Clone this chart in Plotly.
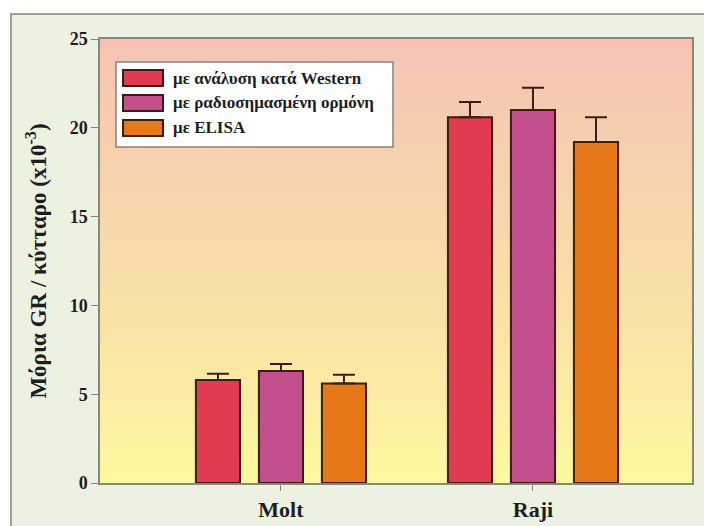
import plotly.graph_objects as go

categories = ["Molt", "Raji"]
series_names = ["με ανάλυση κατά Western", "με ραδιοσημασμένη ορμόνη", "με ELISA"]
western = [5.8, 20.6]
western_err = [0.35, 0.85]
radio = [6.3, 21.0]
radio_err = [0.4, 1.25]
elisa = [5.6, 19.2]
elisa_err = [0.5, 1.4]
y_ticks = [0, 5, 10, 15, 20, 25]
y_title = "Μόρια GR / κύτταρο (x10<sup>-3</sup>)"

colors = ["#E03B51", "#C24E8E", "#E67819"]
edge = "#3A1E12"
FONT = "Liberation Serif"

values = [western, radio, elisa]
errors = [western_err, radio_err, elisa_err]

fig = go.Figure()
for name, v, e, c in zip(series_names, values, errors, colors):
    fig.add_trace(go.Bar(
        x=categories, y=v, name=name,
        marker=dict(color=c, line=dict(color=edge, width=2)),
        error_y=dict(type="data", array=e, symmetric=False, arrayminus=[0]*len(e),
                     color=edge, thickness=2, width=11),
        showlegend=False, hoverinfo="skip",
    ))

def lerp(c1, c2, t):
    return tuple(round(a + (b - a) * t) for a, b in zip(c1, c2))

stops = [(0.0, (253, 249, 160)), (0.35, (250, 226, 166)), (0.7, (247, 210, 173)), (1.0, (245, 195, 180))]
shapes = []
shapes.append(dict(type="rect", xref="paper", yref="paper", x0=-0.1503, x1=1.1, y0=-0.2, y1=1.0563,
                   fillcolor="#ECF1E1", line=dict(color="#A2A294", width=2), layer="below"))
N = 90
for i in range(N):
    t0, t1 = i / N, (i + 1) / N
    tm = (t0 + t1) / 2
    for (s0, c0), (s1, c1) in zip(stops[:-1], stops[1:]):
        if s0 <= tm <= s1:
            col = lerp(c0, c1, (tm - s0) / (s1 - s0))
            break
    shapes.append(dict(type="rect", xref="paper", yref="paper", x0=0, x1=1, y0=t0, y1=t1 + 0.002,
                       fillcolor="rgb(%d,%d,%d)" % col, line=dict(width=0), layer="below"))

W, H = 592, 444
def px(xp):
    return (xp - 100) / W
def py(yp):
    return (483 - yp) / H

shapes.append(dict(type="rect", xref="paper", yref="paper", x0=px(116), x1=px(393), y0=py(147), y1=py(62),
                   fillcolor="white", line=dict(color="#85857C", width=1.5), layer="above"))
annotations = []
row_y = [78, 103, 128]
for name, c, ry in zip(series_names, colors, row_y):
    shapes.append(dict(type="rect", xref="paper", yref="paper", x0=px(123), x1=px(163),
                       y0=py(ry + 8), y1=py(ry - 8), fillcolor=c, line=dict(color=edge, width=2),
                       layer="above"))
    annotations.append(dict(xref="paper", yref="paper", x=px(171), y=py(ry), text=name, showarrow=False,
                            xanchor="left", yanchor="middle",
                            font=dict(family=FONT, size=17, color="#1E1E1E", weight="bold")))

fig.update_layout(
    width=704, height=526,
    margin=dict(l=100, r=12, t=39, b=43),
    paper_bgcolor="white",
    plot_bgcolor="rgba(0,0,0,0)",
    barmode="group", bargap=0.25, bargroupgap=0.3,
    shapes=shapes, annotations=annotations,
    font=dict(family=FONT, color="#1E1E1E"),
    xaxis=dict(range=[-0.718, 1.631], automargin=False, showgrid=False, showline=True,
               linecolor="#8C8676", linewidth=1.5,
               mirror=True, ticks="outside", ticklen=6, tickcolor="#8C8676",
               tickfont=dict(family=FONT, size=22, color="#1E1E1E", weight="bold")),
    yaxis=dict(range=[0, 25], tickvals=y_ticks, automargin=False, showgrid=False, zeroline=False,
               showline=True, linecolor="#8C8676", linewidth=1.5, mirror=True, ticks="outside",
               ticklen=7, tickcolor="#8C8676",
               tickfont=dict(family=FONT, size=18, color="#1E1E1E", weight="bold"),
               title=dict(text=y_title, standoff=17,
                          font=dict(family=FONT, size=23, color="#1E1E1E", weight="bold"))),
)

fig.write_html("out.html", config={"displayModeBar": False},
               post_script="document.body.style.margin='0';document.body.style.padding='0';")
